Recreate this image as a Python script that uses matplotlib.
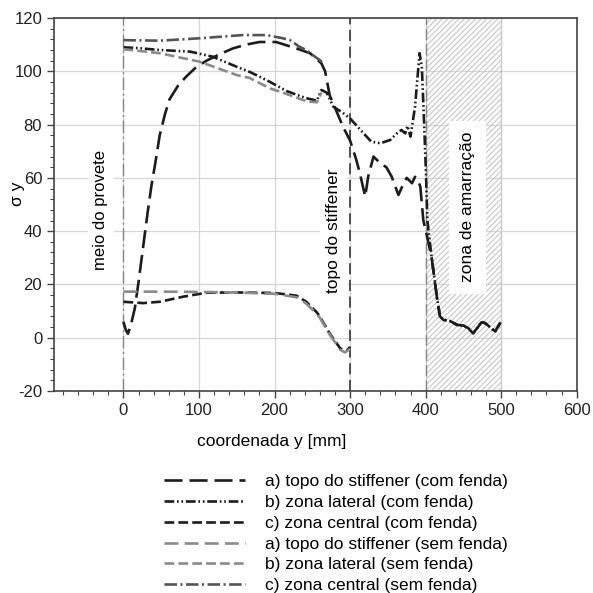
"""
Tensao sigma y ao longo da coordenada y (com / sem fenda)
"""
import matplotlib
matplotlib.use('Agg')
import matplotlib.pyplot as plt
from matplotlib.lines import Line2D
from matplotlib.ticker import MultipleLocator

plt.rcParams['font.family'] = ['Liberation Sans', 'DejaVu Sans']
plt.rcParams['axes.unicode_minus'] = False
plt.rcParams['lines.scale_dashes'] = False
plt.rcParams['hatch.color'] = '#b0b0b0'
plt.rcParams['hatch.linewidth'] = 0.8

# a) topo do stiffener (com fenda)
xa_com = [0, 3, 6, 10, 15, 20, 26, 32, 37, 43, 48, 55, 61, 72, 83, 96, 110,
          128, 145, 162, 180, 202, 229, 247, 258, 262, 267, 273, 282, 291,
          300, 308, 313, 320, 324, 331, 340, 348, 355, 364, 371, 375, 382,
          386, 390, 393, 397, 402, 408, 415, 419, 424, 432, 441, 450, 457,
          463, 468, 474, 479, 485, 492, 499]
ya_com = [6, 3, 1.5, 5, 11, 21, 34, 47, 57, 67, 76, 84, 89.5, 94.5, 98, 101.5,
          104, 106.5, 108.6, 110, 111, 111, 108.6, 106.8, 104, 103, 100, 91,
          85, 79, 74, 67, 61.7, 53, 60.5, 68, 65.5, 64, 60.5, 53.6, 58, 60,
          58, 60.4, 59, 56.7, 44, 38, 30, 15, 8, 6.6, 6.5, 4.8, 4.6, 3.5,
          1.8, 3.5, 5.8, 5.4, 4.1, 2.4, 5.6]

# b) zona lateral (com fenda)
xb_com = [0, 20, 48, 88, 118, 150, 167, 185, 194, 216, 242, 256, 262, 269,
          278, 290, 300, 318, 328, 340, 353, 362, 368, 373, 376, 380, 386,
          392, 395, 398, 400.5, 402.3, 408, 415, 419, 424, 432, 441, 450,
          457, 463, 468, 474, 479, 485, 492, 499]
yb_com = [109, 108.7, 108, 107.4, 105.5, 101.7, 99.8, 97.3, 96, 92.6, 89.9,
          89, 93, 92, 86.7, 84.5, 82.3, 76.7, 73.6, 73, 74.2, 76.7, 78, 76.7,
          79.5, 75.5, 86.7, 106.8, 101.7, 80.5, 61.7, 44, 30, 15.4, 7.9,
          6.8, 6.3, 5, 4.5, 3.4, 1.6, 3.6, 6, 5.5, 4, 2.2, 5.8]

# c) zona central (com fenda)
xc_com = [0, 26, 48, 79, 110, 150, 200, 229, 242, 256, 260, 273, 287, 295,
          300]
yc_com = [13.5, 13, 13.5, 15.4, 16.9, 17, 16.8, 15.8, 13.5, 9.5, 7.9, 1.6,
          -4, -5, -3.5]

# a) topo do stiffener (sem fenda)
xa_sem = [0, 50, 100, 150, 200, 229, 242, 256, 260, 273, 287, 293, 300]
ya_sem = [17.3, 17.3, 17.2, 17, 16.5, 15.2, 12.8, 9, 7.5, 1.2, -4.5, -5.5,
          -4.2]

# b) zona lateral (sem fenda)
xb_sem = [0, 48, 101, 150, 167, 194, 211, 238, 247, 256, 262]
yb_sem = [108.3, 106.8, 103.6, 98.6, 97.5, 93.6, 92, 89.2, 88.6, 88.4, 92]

# c) zona central (sem fenda)
xc_sem = [0, 48, 101, 158, 189, 211, 220, 233, 242, 247, 260, 264]
yc_sem = [111.7, 111.5, 112.4, 113.6, 113.6, 112.4, 111.8, 109.2, 108,
          106.8, 104.2, 103]

labels = ['a) topo do stiffener (com fenda)',
          'b) zona lateral (com fenda)',
          'c) zona central (com fenda)',
          'a) topo do stiffener (sem fenda)',
          'b) zona lateral (sem fenda)',
          'c) zona central (sem fenda)']

series = [(xa_com, ya_com), (xb_com, yb_com), (xc_com, yc_com),
          (xa_sem, ya_sem), (xb_sem, yb_sem), (xc_sem, yc_sem)]
styles = [dict(color='#1c1c1c', lw=1.9, dashes=(13, 5)),
          dict(color='#1c1c1c', lw=1.9, dashes=(7, 2, 1.2, 2, 1.2, 2)),
          dict(color='#1c1c1c', lw=1.9, dashes=(7, 3)),
          dict(color='#8a8a8a', lw=1.9, dashes=(10, 4.5)),
          dict(color='#8a8a8a', lw=1.9, dashes=(7, 3)),
          dict(color='#555555', lw=1.9, dashes=(9, 2.5, 1.5, 2.5))]

fig = plt.figure(figsize=(5.93, 5.93), dpi=100)
ax = fig.add_axes([0.091, 0.3406, 0.8815, 0.629])

ax.set_xlim(-92, 600)
ax.set_ylim(-20, 120)
ax.xaxis.set_major_locator(MultipleLocator(100))
ax.xaxis.set_minor_locator(MultipleLocator(20))
ax.yaxis.set_major_locator(MultipleLocator(20))
ax.yaxis.set_minor_locator(MultipleLocator(4))
ax.tick_params(which='major', direction='out', length=5, width=1,
               labelsize=12, color='#444', labelcolor='#222')
ax.tick_params(which='minor', direction='out', length=3, width=0.8,
               color='#444')
for s in ax.spines.values():
    s.set_color('#444')
    s.set_linewidth(1.2)

ax.grid(True, which='major', color='#d6d6d6', lw=0.9, zorder=0)
ax.set_axisbelow(True)

# zona de amarracao (hatched)
ax.axvspan(400, 500, facecolor='none', edgecolor='#c8c8c8', hatch='//////',
           lw=0.8, zorder=0.6)

# reference lines
ax.axvline(0, color='#888', lw=1, dashes=(9, 2.5, 1.5, 2.5), zorder=1.5)
ax.axvline(300, color='#444', lw=1.3, dashes=(8, 4), zorder=1.5)
ax.axvline(400, color='#888', lw=1, dashes=(8, 3), zorder=1.5)

box = dict(facecolor='white', edgecolor='none', pad=4)
ax.text(-30, 48, 'meio do provete', rotation=90, ha='center', va='center',
        fontsize=12, bbox=box, zorder=1)
ax.text(278, 40, 'topo do stiffener', rotation=90, ha='center', va='center',
        fontsize=12.5, bbox=box, zorder=1)
ax.text(455, 49, 'zona de amarração', rotation=90, ha='center', va='center',
        fontsize=12.5, bbox=dict(facecolor='white', edgecolor='none', pad=8),
        zorder=1)

for (xs, ys), st in zip(series, styles):
    ax.plot(xs, ys, zorder=3, **st)

ax.set_xlabel('coordenada y [mm]', fontsize=12.5)
ax.xaxis.set_label_coords(0.4165, -0.115)
ax.set_ylabel('σ y', fontsize=12.5)
ax.yaxis.set_label_coords(-0.056, 0.53)

handles = [Line2D([], [], **st) for st in styles]
fig.legend(handles, labels, loc='upper left', bbox_to_anchor=(0.276, 0.201),
           frameon=False, fontsize=12.5, handlelength=4.7, handletextpad=1.15,
           labelspacing=0.33, borderpad=0, borderaxespad=0)

fig.savefig('out.png', dpi=100)
